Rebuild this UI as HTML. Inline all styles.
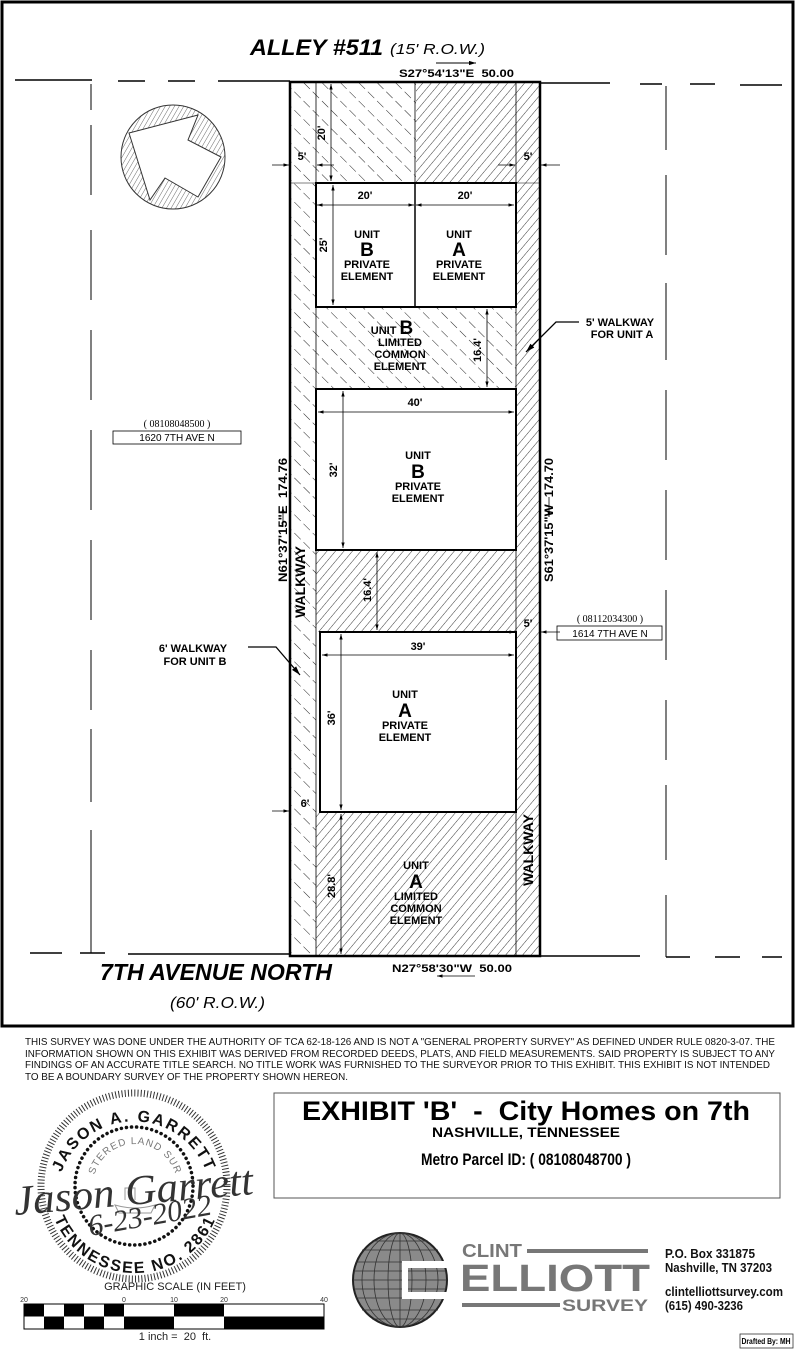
<!DOCTYPE html>
<html><head><meta charset="utf-8"><style>
html,body{margin:0;padding:0;background:#fff;}
svg{display:block;}
text{font-family:"Liberation Sans",sans-serif;}
</style></head><body>
<svg width="795" height="1350" viewBox="0 0 795 1350" xmlns="http://www.w3.org/2000/svg">
<defs>
<pattern id="hb" width="13" height="13" patternUnits="userSpaceOnUse" patternTransform="rotate(-45)">
<line x1="0" y1="0" x2="0" y2="13" stroke="#222" stroke-width="1" stroke-dasharray="9,4"/>
</pattern>
<pattern id="hf" width="6.5" height="6.5" patternUnits="userSpaceOnUse" patternTransform="rotate(40)">
<line x1="0" y1="0" x2="0" y2="6.5" stroke="#222" stroke-width="0.9"/>
</pattern>
<pattern id="hc" width="4" height="4" patternUnits="userSpaceOnUse" patternTransform="rotate(30)">
<line x1="0" y1="0" x2="0" y2="4" stroke="#444" stroke-width="0.8"/>
</pattern>
<marker id="ar" viewBox="0 0 10 10" refX="10" refY="5" markerWidth="7" markerHeight="7" orient="auto-start-reverse"><path d="M0,2 L10,5 L0,8 z" fill="#000"/></marker>
<path id="sealTop" d="M 58,1186 A 77,77 0 0 1 210,1186"/>
<path id="sealBot" d="M 48,1186 A 87,87 0 0 0 222,1186"/>
<path id="sealIn" d="M 93,1186 A 42,42 0 0 1 177,1186"/>
</defs>

<rect x="2" y="2" width="791" height="1024" fill="none" stroke="#000" stroke-width="3"/>

<text x="250" y="55" font-size="22" font-weight="bold" font-style="italic" textLength="133" lengthAdjust="spacingAndGlyphs">ALLEY #511</text>
<text x="390" y="54" font-size="15" font-style="italic" textLength="95" lengthAdjust="spacingAndGlyphs">(15' R.O.W.)</text>
<text x="399" y="77" font-size="11" font-weight="bold" textLength="115" lengthAdjust="spacingAndGlyphs">S27°54'13"E &#160;50.00</text>
<line x1="436" y1="63" x2="476" y2="63" stroke="#000" stroke-width="1" marker-end="url(#ar)"/>

<g stroke="#000" stroke-width="1.5" fill="none">
<path d="M15,80 H92 M118,81 H145 M168,81 H195 M218,81 H290"/>
<path d="M540,83 H610 M640,84 H662 M690,84 H715 M740,85 H782"/>
<path d="M30,953 H62 M80,953 H105 M128,954 H290"/>
<path d="M540,956 H640 M666,957 H690 M715,957 H740 M762,957 H782"/>
<path d="M91,84 V110 M91,125 V195 M91,230 V300 M91,330 V400 M91,430 V510 M91,540 V620 M91,650 V710 M91,729 V802 M91,830 V953" stroke-width="1"/>
<path d="M666,86 V150 M666,175 V255 M666,283 V360 M666,390 V460 M666,490 V560 M666,590 V660 M666,700 V760 M666,785 V860 M666,895 V957" stroke-width="1"/>
</g>

<ellipse cx="173" cy="157" rx="52" ry="52" fill="url(#hc)" stroke="#333" stroke-width="1"/>
<path d="M129,133 L198,115 L188,140 L221,157 L198,197 L165,178 L150,200 Z" fill="#fff" stroke="#333" stroke-width="1"/>

<rect x="290" y="82" width="26" height="874" fill="url(#hb)"/>
<rect x="316" y="82" width="100" height="101" fill="url(#hb)"/>
<rect x="416" y="82" width="100" height="101" fill="url(#hf)"/>
<rect x="516" y="82" width="24" height="874" fill="url(#hf)"/>
<rect x="316" y="307" width="200" height="82" fill="url(#hb)"/>
<rect x="316" y="550" width="200" height="82" fill="url(#hf)"/>
<rect x="316" y="812" width="200" height="144" fill="url(#hf)"/>

<rect x="316" y="183" width="200" height="124" fill="#fff" stroke="#000" stroke-width="2"/>
<line x1="415" y1="183" x2="415" y2="307" stroke="#000" stroke-width="1.5"/>
<line x1="415" y1="82" x2="415" y2="183" stroke="#000" stroke-width="0.8"/>
<rect x="316" y="389" width="200" height="161" fill="#fff" stroke="#000" stroke-width="2"/>
<rect x="320" y="632" width="196" height="180" fill="#fff" stroke="#000" stroke-width="2"/>

<rect x="290" y="82" width="250" height="874" fill="none" stroke="#000" stroke-width="2.5"/>
<line x1="316" y1="82" x2="316" y2="956" stroke="#000" stroke-width="0.8"/>
<line x1="516" y1="82" x2="516" y2="956" stroke="#000" stroke-width="0.8"/>
<line x1="290" y1="183" x2="540" y2="183" stroke="#000" stroke-width="0.5"/>

<g stroke="#000" stroke-width="0.8" fill="none">
<line x1="331" y1="84" x2="331" y2="181" marker-start="url(#ar)" marker-end="url(#ar)"/>
<line x1="272" y1="165" x2="289" y2="165" marker-end="url(#ar)"/>
<line x1="334" y1="165" x2="317" y2="165" marker-end="url(#ar)"/>
<line x1="498" y1="165" x2="515" y2="165" marker-end="url(#ar)"/>
<line x1="560" y1="165" x2="541" y2="165" marker-end="url(#ar)"/>
<line x1="317" y1="205" x2="414" y2="205" marker-start="url(#ar)" marker-end="url(#ar)"/>
<line x1="416" y1="205" x2="514" y2="205" marker-start="url(#ar)" marker-end="url(#ar)"/>
<line x1="333" y1="185" x2="333" y2="305" marker-start="url(#ar)" marker-end="url(#ar)"/>
<line x1="487" y1="309" x2="487" y2="387" marker-start="url(#ar)" marker-end="url(#ar)"/>
<line x1="318" y1="412" x2="514" y2="412" marker-start="url(#ar)" marker-end="url(#ar)"/>
<line x1="343" y1="391" x2="343" y2="548" marker-start="url(#ar)" marker-end="url(#ar)"/>
<line x1="377" y1="552" x2="377" y2="630" marker-start="url(#ar)" marker-end="url(#ar)"/>
<line x1="322" y1="655" x2="514" y2="655" marker-start="url(#ar)" marker-end="url(#ar)"/>
<line x1="341" y1="634" x2="341" y2="810" marker-start="url(#ar)" marker-end="url(#ar)"/>
<line x1="341" y1="814" x2="341" y2="954" marker-start="url(#ar)" marker-end="url(#ar)"/>
<line x1="272" y1="811" x2="289" y2="811" marker-end="url(#ar)"/>
<line x1="560" y1="632" x2="541" y2="632" marker-end="url(#ar)"/>
<line x1="505" y1="632" x2="515" y2="632" marker-end="url(#ar)"/>
<path d="M579,322 H556 L526,352" marker-end="url(#ar)" stroke-width="1.3"/>
<path d="M248,647 H276 L300,675" marker-end="url(#ar)" stroke-width="1.3"/>
<line x1="475" y1="976" x2="437" y2="976" marker-end="url(#ar)"/>
<line x1="283" y1="527" x2="283" y2="507" marker-end="url(#ar)"/>
<line x1="549" y1="497" x2="549" y2="517" marker-end="url(#ar)"/>
</g>

<g font-size="11" font-weight="bold" text-anchor="middle">
<text transform="translate(325,133) rotate(-90)">20'</text>
<text x="302" y="160">5'</text>
<text x="528" y="160">5'</text>
<text x="365" y="199">20'</text>
<text x="465" y="199">20'</text>
<text transform="translate(327,245) rotate(-90)">25'</text>
<text transform="translate(481,350) rotate(-90)">16.4'</text>
<text x="415" y="406">40'</text>
<text transform="translate(337,470) rotate(-90)">32'</text>
<text transform="translate(371,590) rotate(-90)">16.4'</text>
<text x="528" y="627">5'</text>
<text x="418" y="650">39'</text>
<text transform="translate(335,718) rotate(-90)">36'</text>
<text x="305" y="807">6'</text>
<text transform="translate(335,886) rotate(-90)">28.8'</text>
</g>

<g font-weight="bold" text-anchor="middle" fill="#000">
<text x="367" y="238" font-size="11">UNIT</text>
<text x="367" y="256" font-size="19">B</text>
<text x="367" y="268" font-size="11">PRIVATE</text>
<text x="367" y="280" font-size="11">ELEMENT</text>
<text x="459" y="238" font-size="11">UNIT</text>
<text x="459" y="256" font-size="19">A</text>
<text x="459" y="268" font-size="11">PRIVATE</text>
<text x="459" y="280" font-size="11">ELEMENT</text>
<text x="392" y="334" font-size="11">UNIT <tspan font-size="19">B</tspan></text>
<text x="400" y="346" font-size="11">LIMITED</text>
<text x="400" y="358" font-size="11">COMMON</text>
<text x="400" y="370" font-size="11">ELEMENT</text>
<text x="418" y="459" font-size="11">UNIT</text>
<text x="418" y="478" font-size="19">B</text>
<text x="418" y="490" font-size="11">PRIVATE</text>
<text x="418" y="502" font-size="11">ELEMENT</text>
<text x="405" y="698" font-size="11">UNIT</text>
<text x="405" y="717" font-size="19">A</text>
<text x="405" y="729" font-size="11">PRIVATE</text>
<text x="405" y="741" font-size="11">ELEMENT</text>
<text x="416" y="869" font-size="11">UNIT</text>
<text x="416" y="888" font-size="19">A</text>
<text x="416" y="900" font-size="11">LIMITED</text>
<text x="416" y="912" font-size="11">COMMON</text>
<text x="416" y="924" font-size="11">ELEMENT</text>
<text x="620" y="326" font-size="11">5' WALKWAY</text>
<text x="622" y="338" font-size="11">FOR UNIT A</text>
<text x="193" y="652" font-size="11">6' WALKWAY</text>
<text x="195" y="665" font-size="11">FOR UNIT B</text>
<text transform="translate(305,582) rotate(-90)" font-size="14">WALKWAY</text>
<text transform="translate(533,850) rotate(-90)" font-size="14">WALKWAY</text>
<text transform="translate(287,520) rotate(-90)" font-size="12" textLength="124" lengthAdjust="spacingAndGlyphs">N61°37'15"E &#160;174.76</text>
<text transform="translate(553,520) rotate(-90)" font-size="12" textLength="124" lengthAdjust="spacingAndGlyphs">S61°37'15"W &#160;174.70</text>
</g>

<text x="177" y="427" font-size="10" text-anchor="middle" style="font-family:'Liberation Serif',serif">( 08108048500 )</text>
<rect x="113" y="431" width="128" height="13" fill="none" stroke="#000" stroke-width="0.8"/>
<text x="177" y="441" font-size="10" text-anchor="middle">1620 7TH AVE N</text>
<text x="610" y="622" font-size="10" text-anchor="middle" style="font-family:'Liberation Serif',serif">( 08112034300 )</text>
<rect x="557" y="626" width="105" height="14" fill="none" stroke="#000" stroke-width="0.8"/>
<text x="610" y="637" font-size="10" text-anchor="middle">1614 7TH AVE N</text>

<text x="100" y="980" font-size="23" font-weight="bold" font-style="italic" textLength="232" lengthAdjust="spacingAndGlyphs">7TH AVENUE NORTH</text>
<text x="170" y="1008" font-size="16" font-style="italic" textLength="95" lengthAdjust="spacingAndGlyphs">(60' R.O.W.)</text>
<text x="392" y="972" font-size="11" font-weight="bold" textLength="120" lengthAdjust="spacingAndGlyphs">N27°58'30"W &#160;50.00</text>

<g font-size="10" fill="#111">
<text x="25" y="1045" textLength="750" lengthAdjust="spacingAndGlyphs">THIS SURVEY WAS DONE UNDER THE AUTHORITY OF TCA 62-18-126 AND IS NOT A "GENERAL PROPERTY SURVEY" AS DEFINED UNDER RULE 0820-3-07. THE</text>
<text x="25" y="1057" textLength="750" lengthAdjust="spacingAndGlyphs">INFORMATION SHOWN ON THIS EXHIBIT WAS DERIVED FROM RECORDED DEEDS, PLATS, AND FIELD MEASUREMENTS. SAID PROPERTY IS SUBJECT TO ANY</text>
<text x="25" y="1068" textLength="745" lengthAdjust="spacingAndGlyphs">FINDINGS OF AN ACCURATE TITLE SEARCH. NO TITLE WORK WAS FURNISHED TO THE SURVEYOR PRIOR TO THIS EXHIBIT. THIS EXHIBIT IS NOT INTENDED</text>
<text x="25" y="1080" textLength="323" lengthAdjust="spacingAndGlyphs">TO BE A BOUNDARY SURVEY OF THE PROPERTY SHOWN HEREON.</text>
</g>

<rect x="274" y="1093" width="506" height="105" fill="none" stroke="#555" stroke-width="1"/>
<text x="526" y="1120" font-size="27" font-weight="bold" text-anchor="middle" textLength="448" lengthAdjust="spacingAndGlyphs">EXHIBIT 'B' &#160;- &#160;City Homes on 7th</text>
<text x="526" y="1137" font-size="14" font-weight="bold" text-anchor="middle" textLength="188" lengthAdjust="spacingAndGlyphs">NASHVILLE, TENNESSEE</text>
<text x="526" y="1165" font-size="17" font-weight="bold" text-anchor="middle" textLength="210" lengthAdjust="spacingAndGlyphs">Metro Parcel ID: ( 08108048700 )</text>

<circle cx="134" cy="1186" r="93" fill="none" stroke="#333" stroke-width="7" stroke-dasharray="1,2.2"/>
<circle cx="134" cy="1186" r="59" fill="none" stroke="#111" stroke-width="3.5" stroke-dasharray="0.1,5" stroke-linecap="round"/>
<text font-size="16" font-weight="bold" fill="#111" letter-spacing="2"><textPath href="#sealTop" startOffset="50%" text-anchor="middle">JASON A. GARRETT</textPath></text>
<text font-size="16" font-weight="bold" fill="#111" letter-spacing="2"><textPath href="#sealBot" startOffset="50%" text-anchor="middle">TENNESSEE NO. 2861</textPath></text>
<text font-size="10" fill="#777" letter-spacing="1"><textPath href="#sealIn" startOffset="50%" text-anchor="middle">STERED LAND SUR</textPath></text>
<path d="M115,1205 q20,6 40,0 l-4,8 h-32 z M125,1200 v-12 h10 v12" fill="none" stroke="#999" stroke-width="1"/>
<text x="15" y="1215" font-size="42" font-style="italic" fill="#333" style="font-family:'Liberation Serif',serif" transform="rotate(-5 15 1215)" textLength="240" lengthAdjust="spacingAndGlyphs">Jason Garrett</text>
<text x="90" y="1236" font-size="30" font-style="italic" fill="#333" style="font-family:'Liberation Serif',serif" transform="rotate(-10 90 1236)">6-23-2022</text>

<text x="175" y="1290" font-size="11" text-anchor="middle" fill="#222">GRAPHIC SCALE (IN FEET)</text>
<g font-size="7" text-anchor="middle" fill="#333">
<text x="24" y="1302">20</text><text x="124" y="1302">0</text><text x="174" y="1302">10</text><text x="224" y="1302">20</text><text x="324" y="1302">40</text>
</g>
<g fill="#000">
<rect x="24" y="1304" width="20" height="12.5"/><rect x="64" y="1304" width="20" height="12.5"/><rect x="104" y="1304" width="20" height="12.5"/>
<rect x="44" y="1316.5" width="20" height="12.5"/><rect x="84" y="1316.5" width="20" height="12.5"/>
<rect x="124" y="1316.5" width="50" height="12.5"/>
<rect x="174" y="1304" width="50" height="12.5"/>
<rect x="224" y="1316.5" width="100" height="12.5"/>
</g>
<rect x="24" y="1304" width="300" height="25" fill="none" stroke="#000" stroke-width="1"/>
<text x="175" y="1340" font-size="11" text-anchor="middle" fill="#222">1 inch = &#160;20 &#160;ft.</text>

<circle cx="400" cy="1280" r="47" fill="#8a8a8a" stroke="#222" stroke-width="2"/>
<g stroke="#333" stroke-width="0.8" fill="none">
<ellipse cx="400" cy="1280" rx="12" ry="47"/><ellipse cx="400" cy="1280" rx="26" ry="47"/><ellipse cx="400" cy="1280" rx="38" ry="47"/>
<line x1="400" y1="1233" x2="400" y2="1327"/>
<path d="M356,1262 H444 M354,1271 H446 M353,1280 H447 M354,1289 H446 M356,1298 H444 M362,1250 H438 M362,1310 H438 M372,1241 H428 M372,1319 H428"/>
</g>
<path d="M402,1261 H450 V1268 H408 V1292 H450 V1299 H402 Z" fill="#fff"/>
<text x="462" y="1257" font-size="18" font-weight="bold" fill="#777" textLength="60" lengthAdjust="spacingAndGlyphs">CLINT</text>
<rect x="527" y="1249" width="121" height="4" fill="#777"/>
<text x="460" y="1291" font-size="38" font-weight="bold" fill="#777" textLength="190" lengthAdjust="spacingAndGlyphs">ELLIOTT</text>
<rect x="462" y="1303" width="98" height="4" fill="#777"/>
<text x="562" y="1311" font-size="17" font-weight="bold" fill="#777" textLength="86" lengthAdjust="spacingAndGlyphs">SURVEY</text>
<g font-size="12.5" font-weight="bold" fill="#111">
<text x="665" y="1258" textLength="90" lengthAdjust="spacingAndGlyphs">P.O. Box 331875</text>
<text x="665" y="1272" textLength="107" lengthAdjust="spacingAndGlyphs">Nashville, TN 37203</text>
<text x="665" y="1296" textLength="118" lengthAdjust="spacingAndGlyphs">clintelliottsurvey.com</text>
<text x="665" y="1310" textLength="78" lengthAdjust="spacingAndGlyphs">(615) 490-3236</text>
</g>
<rect x="740" y="1334" width="53" height="14" fill="#fff" stroke="#333" stroke-width="0.8"/>
<text x="766" y="1344" font-size="8" font-weight="bold" text-anchor="middle" textLength="49" lengthAdjust="spacingAndGlyphs">Drafted By: MH</text>
</svg>
</body></html>
